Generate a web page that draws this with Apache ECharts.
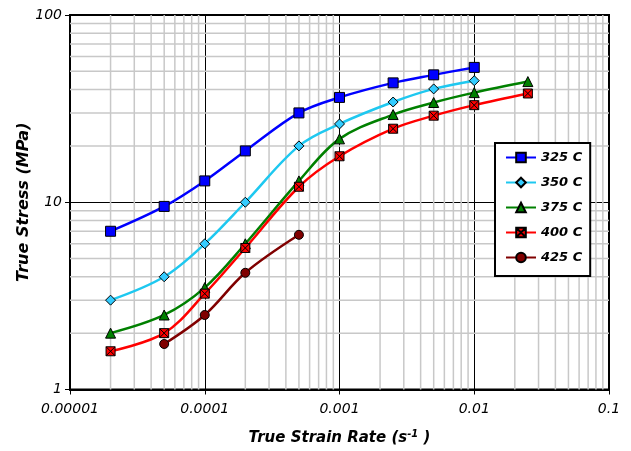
<!DOCTYPE html>
<html>
<head>
<meta charset="utf-8">
<script src="https://cdn.jsdelivr.net/npm/echarts@6/dist/echarts.min.js"></script>
<style>
  html, body { margin: 0; padding: 0; background: #fff; }
  #chart { width: 631px; height: 451px; }
</style>
</head>
<body>
<div id="chart"></div>
<script>
// Strain rates (1/s) at which flow stress was measured
var strainRates = [2e-5, 5e-5, 1e-4, 2e-4, 5e-4, 1e-3, 2.5e-3, 5e-3, 1e-2, 2.5e-2];

// True stress (MPa) per test temperature; null = not tested
var stress325 = [7.0, 9.5, 13.0, 18.8, 30.0, 36.3, 43.4, 47.9, 52.5, null];
var stress350 = [3.0, 4.0, 6.0, 10.0, 20.0, 26.2, 34.3, 40.3, 44.6, null];
var stress375 = [2.0, 2.5, 3.5, 6.0, 13.0, 21.8, 29.4, 34.1, 38.5, 44.1];
var stress400 = [1.6, 2.0, 3.25, 5.7, 12.1, 17.6, 24.7, 29.0, 33.0, 38.1];
var stress425 = [null, 1.75, 2.5, 4.2, 6.7, null, null, null, null, null];

var seriesNames = ['325 C', '350 C', '375 C', '400 C', '425 C'];
var xTickLabels = ['0.00001', '0.0001', '0.001', '0.01', '0.1'];
var yTickLabels = ['1', '10', '100'];

var X_MIN = 1e-5, X_MAX = 0.1, Y_MIN = 1, Y_MAX = 100;
var FONT = '"DejaVu Sans", Verdana, sans-serif';

function pairs(values) {
  var out = [];
  for (var i = 0; i < strainRates.length; i++) {
    if (values[i] !== null) out.push([strainRates[i], values[i]]);
  }
  return out;
}

// minor log gridlines at 2..9 within each decade
function minorGridSeries() {
  var list = [];
  var style = { color: '#c8c8c8', width: 1.5 };
  function add(data) {
    list.push({
      type: 'line', data: data, z: 1, silent: true, symbol: 'none',
      lineStyle: style, emphasis: { disabled: true }, animation: false
    });
  }
  [1e-5, 1e-4, 1e-3, 1e-2].forEach(function (d) {
    for (var k = 2; k <= 9; k++) add([[k * d, Y_MIN], [k * d, Y_MAX]]);
  });
  [1, 10].forEach(function (d) {
    for (var k = 2; k <= 9; k++) add([[X_MIN, k * d], [X_MAX, k * d]]);
  });
  return list;
}

var crossSquare = 'path://M0,0L10,0L10,10L0,10Z M0,0L10,10 M10,0L0,10';

function dataSeries(name, values, color, fill, symbol, size) {
  return {
    name: name,
    type: 'line',
    data: pairs(values),
    smooth: 0.35,
    z: 3,
    symbol: symbol,
    symbolSize: size,
    lineStyle: { color: color, width: 2.5 },
    itemStyle: { color: fill, borderColor: '#000', borderWidth: 1 },
    emphasis: { disabled: true },
    animation: false
  };
}

var chart = echarts.init(document.getElementById('chart'), null, { renderer: 'canvas' });

chart.setOption({
  backgroundColor: '#ffffff',
  animation: false,
  grid: {
    left: 70, right: 22, top: 15, bottom: 59,
    show: true, borderColor: '#000', borderWidth: 2, backgroundColor: 'transparent'
  },
  legend: {
    data: seriesNames,
    orient: 'vertical',
    left: 495, top: 143,
    padding: [8, 8, 12, 10],
    itemWidth: 30, itemHeight: 12, itemGap: 12,
    backgroundColor: '#fff',
    borderColor: '#000', borderWidth: 2,
    borderRadius: 0,
    z: 10,
    textStyle: { fontFamily: FONT, fontSize: 13, fontStyle: 'italic', fontWeight: 'bold', color: '#000' }
  },
  xAxis: {
    type: 'log', logBase: 10, min: X_MIN, max: X_MAX,
    name: 'True Strain Rate (s{sup|-1} )',
    nameLocation: 'middle', nameGap: 40,
    nameTextStyle: {
      fontFamily: FONT, fontSize: 15, fontStyle: 'italic', fontWeight: 'bold', color: '#000',
      rich: { sup: { fontFamily: FONT, fontSize: 10, fontStyle: 'italic', fontWeight: 'bold', color: '#000', verticalAlign: 'top', padding: [0, 0, 8, 0] } }
    },
    axisLine: { show: true, onZero: false, lineStyle: { color: '#000', width: 2 } },
    axisTick: { show: true, inside: false, length: 5, lineStyle: { color: '#000', width: 1 } },
    axisLabel: {
      margin: 13, fontFamily: FONT, fontSize: 14, fontStyle: 'italic', color: '#000',
      formatter: function (v) { return xTickLabels[Math.round(Math.log10(v)) + 5]; }
    },
    splitLine: { show: true, lineStyle: { color: '#000', width: 1 } }
  },
  yAxis: {
    type: 'log', logBase: 10, min: Y_MIN, max: Y_MAX,
    name: 'True Stress (MPa)',
    nameLocation: 'middle', nameGap: 38, nameRotate: 90,
    nameMoveOverlap: false,
    nameTextStyle: { fontFamily: FONT, fontSize: 16, fontStyle: 'italic', fontWeight: 'bold', color: '#000' },
    axisLine: { show: true, lineStyle: { color: '#000', width: 2 } },
    axisTick: { show: true, inside: false, length: 5, lineStyle: { color: '#000', width: 1 } },
    axisLabel: {
      margin: 8, fontFamily: FONT, fontSize: 14, fontStyle: 'italic', color: '#000',
      formatter: function (v) { return yTickLabels[Math.round(Math.log10(v))]; }
    },
    splitLine: { show: true, lineStyle: { color: '#000', width: 1 } }
  },
  series: minorGridSeries().concat([
    dataSeries('325 C', stress325, '#0000ff', '#0000ff', 'rect', 10),
    dataSeries('350 C', stress350, '#1ec8f0', '#33ccff', 'diamond', 10),
    dataSeries('375 C', stress375, '#008000', '#008000', 'triangle', 10),
    dataSeries('400 C', stress400, '#ff0000', '#ff0000', crossSquare, 9),
    dataSeries('425 C', stress425, '#800000', '#800000', 'circle', 9)
  ])
});
</script>
</body>
</html>
